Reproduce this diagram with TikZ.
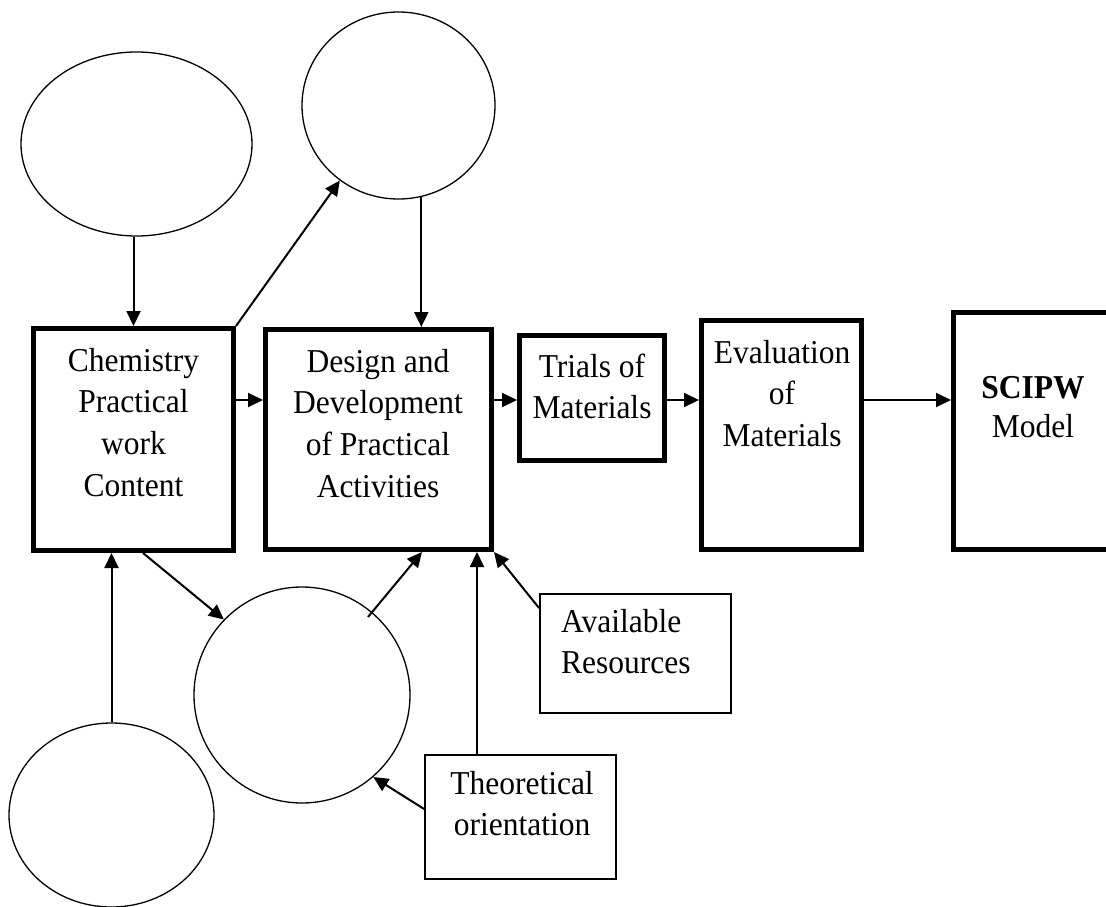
\documentclass[tikz,border=0pt]{standalone}
\usepackage{fontspec}
\usepackage{graphicx}
\setmainfont{Liberation Serif}
\usetikzlibrary{arrows.meta,shapes.geometric}
% multi-line labels whose baseline is the first line, set slightly tall
\newcommand\stackc[1]{\scalebox{1}[1.06]{\begin{tabular}[t]{@{}c@{}}#1\end{tabular}}}
\newcommand\stackl[1]{\scalebox{1}[1.06]{\begin{tabular}[t]{@{}l@{}}#1\end{tabular}}}
\begin{document}
\begin{tikzpicture}[x=1pt,y=-1pt,
  font=\fontsize{31.5}{39.6}\selectfont,
  stage/.style={draw, rectangle, line width=5pt, inner sep=0pt},
  note/.style={draw, rectangle, line width=1.8pt, inner sep=0pt},
  blob/.style={draw, ellipse, line width=1.3pt, inner sep=0pt},
  txt/.style={inner sep=0pt, anchor=base},
  link/.style={line width=2pt, -{Triangle[length=15pt,width=14pt]}}]

\useasboundingbox (0,0) rectangle (1106,907);
\clip (0,0) rectangle (1106,907);

% ellipses
\node[blob, minimum width=231pt, minimum height=184pt] (eA) at (136.5,144) {};
\node[blob, minimum width=193pt, minimum height=187pt] (eB) at (398.5,105.5) {};
\node[blob, minimum width=216pt, minimum height=216pt] (circ) at (302,695) {};
\node[blob, minimum width=205pt, minimum height=184pt] (eC) at (111.5,815) {};

% main stages
\node[stage, minimum width=200pt, minimum height=222pt] (chem) at (133.5,439.5) {};
\node[stage, minimum width=226pt, minimum height=220pt] (design) at (378.5,439.5) {};
\node[stage, minimum width=145pt, minimum height=125pt] (trials) at (592,398) {};
\node[stage, minimum width=160pt, minimum height=229pt] (eval) at (781.5,435) {};
\node[stage, minimum width=159pt, minimum height=237pt] (model) at (1033,431) {};

% side inputs
\node[note, minimum width=191pt, minimum height=119pt] (avail) at (635.5,653.5) {};
\node[note, minimum width=191pt, minimum height=124pt] (theo) at (520.5,817) {};

% labels
\node[txt] (chemtxt) at (133.5,371) {\stackc{Chemistry\\Practical\\work\\Content}};
\node[txt] (designtxt) at (378,372) {\stackc{Design and\\Development\\of Practical\\Activities}};
\node[txt] (trialstxt) at (592,377) {\stackc{Trials of\\Materials}};
\node[txt] (evaltxt) at (782,363) {\stackc{Evaluation\\of\\Materials}};
\node[txt] (modeltxt) at (1033,398) {\fontsize{31.5}{37.7}\selectfont\stackc{\textbf{SCIPW}\\Model}};
\node[txt, anchor=base west] (availtxt) at (561,632) {\stackl{Available\\Resources}};
\node[txt] (theotxt) at (522,794) {\stackc{Theoretical\\orientation}};

% flow along the main row
\coordinate (row) at (0,400);
\draw[link] (chem.east |- row) -- (design.west |- row);
\draw[link] (design.east |- row) -- (trials.west |- row);
\draw[link] (trials.east |- row) -- (eval.west |- row);
\draw[link] (eval.east |- row) -- (model.west |- row);

% links with the ellipses
\draw[link] (chem.north |- eA.south) -- (chem.north);
\draw[link] (chem.north east) -- (eB.232.6);
\draw[link] (eB.-76) -- (eB.-76 |- design.north);
\draw[link] ([xshift=9.5pt]chem.south) -- (circ.136.5);
\coordinate (circout) at (368,617);
\draw[link] (circout) -- ([xshift=43.5pt]design.south);
\draw[link] (eC.north) -- (eC.north |- chem.south);

% side inputs into the design stage
\draw[link] ([xshift=-43.5pt]theo.north) -- ([xshift=-43.5pt]theo.north |- design.south);
\draw[link] ([yshift=8pt]theo.west) -- (circ.-49);
\draw[link] ([yshift=-15pt]avail.north west) -- (design.south east);
\end{tikzpicture}
\end{document}
